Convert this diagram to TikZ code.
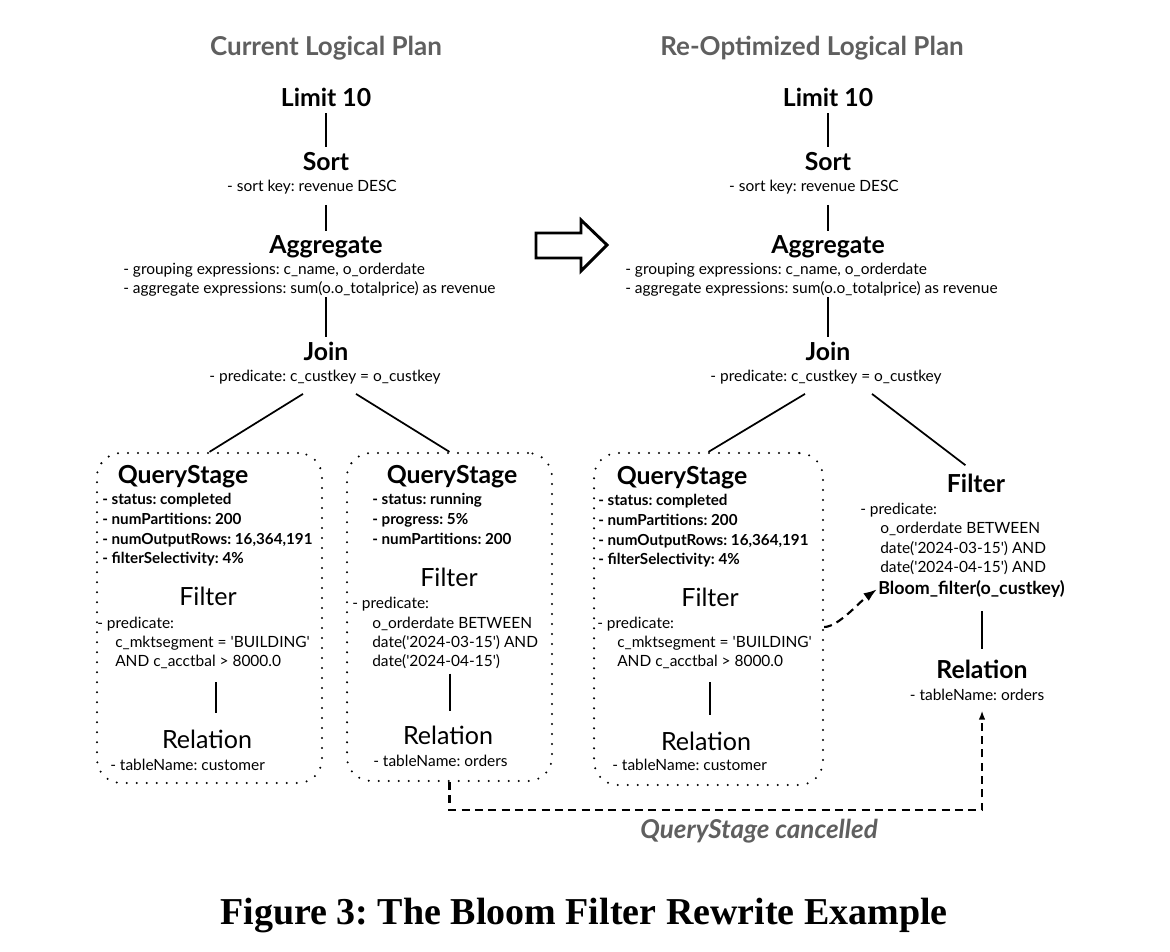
\documentclass[tikz,border=0pt]{standalone}
\usepackage{fontspec}
\setmainfont{Lato}
\newfontfamily\capfont{Liberation Serif}
\usetikzlibrary{arrows.meta,calc,fit}
\definecolor{hgray}{RGB}{95,95,95}
\frenchspacing
\tikzset{
  optitle/.style={inner sep=0pt, anchor=base, font=\fontsize{18.6}{22}\selectfont\bfseries},
  qtitle/.style={inner sep=0pt, anchor=base, font=\fontsize{18.6}{22}\selectfont\bfseries},
  btitle/.style={inner sep=0pt, anchor=base, font=\fontsize{18.8}{22}\selectfont},
  det/.style={inner sep=0pt, anchor=base west, font=\fontsize{11.6}{14}\selectfont},
  detc/.style={det, anchor=base},
  detb/.style={inner sep=0pt, anchor=base west, font=\fontsize{11.4}{14}\selectfont\bfseries},
  bigb/.style={inner sep=0pt, anchor=base west, font=\fontsize{13.4}{16}\selectfont\bfseries},
  hdr/.style={inner sep=0pt, anchor=base, text=hgray, font=\fontsize{19.5}{22}\selectfont\bfseries},
  canc/.style={inner sep=0pt, anchor=base, text=hgray, font=\fontsize{19.5}{22}\selectfont\bfseries\itshape},
  tie/.style={line width=1.3pt},
  dotbox/.style={draw, line width=1.7pt, dash pattern=on 0pt off 7.5pt, line cap=round, rounded corners=18pt, inner sep=0pt},
  flow/.style={line width=1.6pt, dash pattern=on 6pt off 4pt, -{Latex[length=10pt,width=7pt]}},
  flowb/.style={line width=1.6pt, dash pattern=on 6pt off 4pt, -{Latex[length=7pt,width=5pt]}}
}
\begin{document}
\begin{tikzpicture}[x=0.75pt,y=-0.75pt]
\useasboundingbox (0,0) rectangle (1170,952);

% ---------- left plan ----------
\node[hdr] (hdrL) at (326,56) {Current Logical Plan};
\node[optitle] (limL) at (326,107) {Limit 10};
\node[optitle] (sortL) at (326,171) {Sort};
\node[detc] (sortdL) at (312,192) {- sort key: revenue DESC};
\node[optitle] (aggL) at (326,253) {Aggregate};
\node[det] (aggdL1) at (123,274) {- grouping expressions: c\_name, o\_orderdate};
\node[det] (aggdL2) at (123,293) {- aggregate expressions: sum(o.o\_totalprice) as revenue};
\node[optitle] (joinL) at (326,360) {Join};
\node[detc] (joindL) at (325,381) {- predicate: c\_custkey = o\_custkey};

\draw[tie, shorten <=4.5pt, shorten >=4pt] (limL.south) -- (sortL.north);
\draw[tie, shorten <=7.5pt, shorten >=3pt] (aggL.north |- sortdL.south) -- (aggL.north);
\draw[tie, shorten <=1pt, shorten >=3.5pt] (joinL.north |- aggdL2.south) -- (joinL.north);

% box 1
\node[dotbox, fit={(97,453) (322,783)}] (qs1) {};
\node[qtitle] (qs1t) at (183,483) {QueryStage};
\node[detb] (qs1a) at (102,504) {- status: completed};
\node[detb] (qs1b) at (102,524) {- numPartitions: 200};
\node[detb] (qs1c) at (102,544) {- numOutputRows: 16,364,191};
\node[detb] (qs1d) at (102,563) {- filterSelectivity: 4\%};
\node[btitle] (f1) at (208,605) {Filter};
\node[det] (f1a) at (97,628) {- predicate:};
\node[det] (f1b) at (115,647) {c\_mktsegment = \textquotesingle BUILDING\textquotesingle};
\node[det] (f1c) at (115,666) {AND c\_acctbal > 8000.0};
\node[btitle] (r1) at (207,748) {Relation};
\node[det] (r1a) at (110,770) {- tableName: customer};
\draw[tie] ($(r1.north |- f1c.south)+(9,14)$) -- ($(r1.north)+(9,-16)$);

% box 2
\node[dotbox, fit={(347,453) (552,781)}] (qs2) {};
\node[qtitle] (qs2t) at (452,483) {QueryStage};
\node[detb] (qs2a) at (372,504) {- status: running};
\node[detb] (qs2b) at (372,524) {- progress: 5\%};
\node[detb] (qs2c) at (372,544) {- numPartitions: 200};
\node[btitle] (f2) at (449,586) {Filter};
\node[det] (f2a) at (352,608) {- predicate:};
\node[det] (f2b) at (372,628) {o\_orderdate BETWEEN};
\node[det] (f2c) at (372,647) {date(\textquotesingle 2024-03-15\textquotesingle) AND};
\node[det] (f2d) at (372,666) {date(\textquotesingle 2024-04-15\textquotesingle)};
\node[btitle] (r2) at (448,744) {Relation};
\node[det] (r2a) at (373,766) {- tableName: orders};
\draw[tie] ($(r2.north |- f2d.south)+(2,5)$) -- ($(r2.north)+(2,-14)$);

\draw[tie] ($(joindL.south)+(-22,10)$) -- (qs1.north);
\draw[tie] ($(joindL.south)+(31,10)$) -- (qs2.north);

% ---------- right plan ----------
\node[hdr] (hdrR) at (812,56) {Re-Optimized Logical Plan};
\node[optitle] (limR) at (828,107) {Limit 10};
\node[optitle] (sortR) at (828,171) {Sort};
\node[detc] (sortdR) at (814,192) {- sort key: revenue DESC};
\node[optitle] (aggR) at (828,253) {Aggregate};
\node[det] (aggdR1) at (625,274) {- grouping expressions: c\_name, o\_orderdate};
\node[det] (aggdR2) at (625,293) {- aggregate expressions: sum(o.o\_totalprice) as revenue};
\node[optitle] (joinR) at (828,360) {Join};
\node[detc] (joindR) at (826,381) {- predicate: c\_custkey = o\_custkey};

\draw[tie, shorten <=4.5pt, shorten >=4pt] (limR.south) -- (sortR.north);
\draw[tie, shorten <=7.5pt, shorten >=3pt] (aggR.north |- sortdR.south) -- (aggR.north);
\draw[tie, shorten <=1pt, shorten >=3.5pt] (joinR.north |- aggdR2.south) -- (joinR.north);

% box 3
\node[dotbox, fit={(594,453) (823,785)}] (qs3) {};
\node[qtitle] (qs3t) at (682,484) {QueryStage};
\node[detb] (qs3a) at (598,505) {- status: completed};
\node[detb] (qs3b) at (598,525) {- numPartitions: 200};
\node[detb] (qs3c) at (598,545) {- numOutputRows: 16,364,191};
\node[detb] (qs3d) at (598,564) {- filterSelectivity: 4\%};
\node[btitle] (f3) at (710,606) {Filter};
\node[det] (f3a) at (597,628) {- predicate:};
\node[det] (f3b) at (617,647) {c\_mktsegment = \textquotesingle BUILDING\textquotesingle};
\node[det] (f3c) at (617,666) {AND c\_acctbal > 8000.0};
\node[btitle] (r3) at (706,750) {Relation};
\node[det] (r3a) at (612,770) {- tableName: customer};
\draw[tie] ($(r3.north |- f3c.south)+(4,14)$) -- ($(r3.north)+(4,-16)$);

% right filter / relation
\node[optitle] (filtR) at (976,492) {Filter};
\node[det] (fRa) at (860,514) {- predicate:};
\node[det] (fRb) at (880,533) {o\_orderdate BETWEEN};
\node[det] (fRc) at (880,553) {date(\textquotesingle 2024-03-15\textquotesingle) AND};
\node[det] (fRd) at (880,572) {date(\textquotesingle 2024-04-15\textquotesingle) AND};
\node[bigb] (bloom) at (878,594) {Bloom\_filter(o\_custkey)};
\node[optitle] (relR) at (982,678) {Relation};
\node[detc] (relRa) at (977,700) {- tableName: orders};
\draw[tie] ($(relR.north |- bloom.south)+(0,14)$) -- ($(relR.north)+(0,-10)$);

\draw[tie] ($(joindR.south)+(-21,10)$) -- (qs3.north);
\draw[tie, shorten >=10pt] ($(joindR.south)+(46,10)$) -- (filtR.north);

% big arrow
\draw[line width=2.2pt, line join=miter] (536,233) -- (581,233) -- (581,220) -- (607,245) -- (581,271) -- (581,258) -- (536,258) -- cycle;

% dashed flows
\draw[flow, shorten >=1pt] ([yshift=-6pt]qs3.east) .. controls +(14,0) and +(-18,13) .. (bloom.west);
\draw[flowb] (qs2.south) -- ++(0,28) -| ($(relR.south |- relRa.south)+(0,10)$);
\node[canc] (cancel) at (759,838) {QueryStage cancelled};

% caption
\node[inner sep=0pt, anchor=base, font=\capfont\fontsize{28.5}{32}\selectfont\bfseries] (cap) at (584,924) {Figure 3: The Bloom Filter Rewrite Example};
\end{tikzpicture}
\end{document}
